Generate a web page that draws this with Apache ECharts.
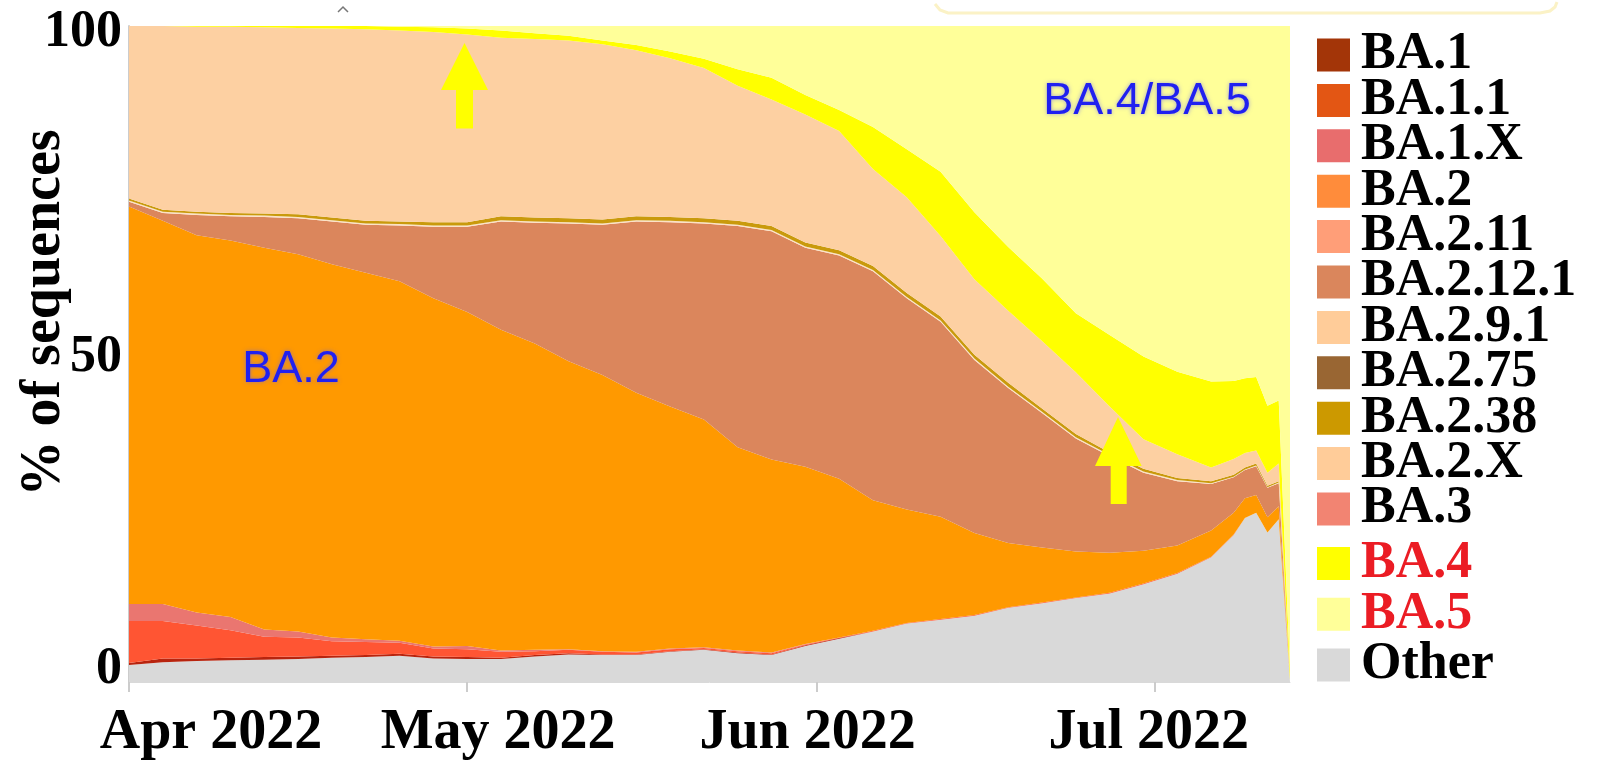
<!DOCTYPE html>
<html>
<head>
<meta charset="utf-8">
<title>Omicron sub-lineage share of sequences, Apr–Jul 2022</title>
<script src="https://cdn.jsdelivr.net/npm/echarts@6/dist/echarts.min.js"></script>
<style>
  html, body { margin: 0; padding: 0; background: #ffffff; }
  #chart { width: 1600px; height: 761px; }
</style>
</head>
<body>
<div id="chart"></div>
<script>
// Sample dates (2022) for the stacked shares
const dates = [
  '2022-04-01','2022-04-04','2022-04-07','2022-04-10','2022-04-13','2022-04-16','2022-04-19','2022-04-22',
  '2022-04-25','2022-04-28','2022-05-01','2022-05-04','2022-05-07','2022-05-10','2022-05-13','2022-05-16',
  '2022-05-19','2022-05-22','2022-05-25','2022-05-28','2022-05-31','2022-06-03','2022-06-06','2022-06-09',
  '2022-06-12','2022-06-15','2022-06-18','2022-06-21','2022-06-24','2022-06-27','2022-06-30','2022-07-03',
  '2022-07-06','2022-07-08','2022-07-09','2022-07-10','2022-07-11','2022-07-12','2022-07-13'
];

// Percent of sequences per lineage, bottom of the stack first
const other   = [2.6,3.0,3.2,3.3,3.4,3.5,3.7,3.8,4.0,3.6,3.5,3.5,3.9,4.2,4.1,4.1,4.6,4.9,4.4,4.1,5.5,6.6,7.7,8.9,9.5,10.1,11.3,12.0,12.8,13.5,14.9,16.5,19.0,22.4,25.0,25.8,22.8,24.8,0];
const ba1     = [0.3,0.6,0.4,0.4,0.4,0.4,0.3,0.3,0.3,0.3,0.3,0.2,0.2,0.2,0.1,0.1,0.1,0.1,0.1,0.1,0.1,0.1,0,0,0,0,0,0,0,0,0,0,0,0,0,0,0,0,0];
const ba11    = [6.4,5.7,5.0,4.2,3.1,2.9,2.2,2.0,1.7,1.2,1.2,0.9,0.6,0.5,0.4,0.3,0.3,0.2,0.2,0.2,0.1,0.1,0.1,0.1,0.1,0.1,0.1,0.1,0.1,0.1,0.1,0.1,0.1,0.1,0,0,0,0,0];
const ba1x    = [2.6,2.6,2.0,2.0,1.1,0.9,0.6,0.4,0.3,0.3,0.5,0.2,0.2,0.1,0.1,0.1,0.1,0.1,0.1,0.1,0.1,0,0,0,0,0,0,0,0,0,0,0,0,0,0,0,0,0,0];
const ba2     = [60.6,58.4,57.5,57.4,58.2,57.5,56.9,55.9,54.8,53.1,50.9,48.9,46.7,43.9,42.1,39.5,36.9,34.7,31.0,29.4,27.0,24.2,19.9,17.3,15.6,12.5,9.8,8.4,7.0,6.1,5.0,4.2,4.0,3.3,3.0,2.7,2.3,2.0,0];
const ba211   = [0,0,0,0,0,0,0,0,0,0,0,0,0,0,0,0,0,0,0,0,0,0,0,0,0,0,0,0,0,0,0,0,0,0,0,0,0,0,0];
const ba2121  = [0.7,1.2,3.1,3.7,4.7,5.5,6.5,7.3,8.5,10.9,13.0,16.5,18.4,21.0,22.9,26.1,28.1,29.9,33.7,34.8,33.4,34.0,34.9,32.2,29.7,26.4,23.6,20.5,17.2,14.7,11.9,9.8,7.1,5.4,4.3,4.4,4.5,3.5,0.3];
const ba291   = [0.2,0.2,0.2,0.2,0.2,0.2,0.2,0.2,0.2,0.2,0.2,0.2,0.2,0.2,0.2,0.2,0.2,0.2,0.2,0.2,0.2,0.2,0.2,0.2,0.2,0.2,0.2,0.2,0.2,0.2,0.2,0.2,0.1,0.1,0.1,0.1,0.1,0.1,0];
const ba275   = [0,0,0,0,0,0,0,0,0,0,0,0,0,0,0,0,0,0,0,0,0,0,0,0,0,0,0,0,0,0,0,0,0,0,0,0,0,0,0];
const ba238   = [0.3,0.3,0.3,0.3,0.3,0.4,0.4,0.4,0.4,0.5,0.5,0.6,0.6,0.6,0.6,0.6,0.6,0.6,0.6,0.6,0.6,0.6,0.6,0.6,0.6,0.6,0.6,0.5,0.5,0.4,0.4,0.3,0.3,0.3,0.3,0.3,0.2,0.2,0];
const ba2x    = [26.3,28.0,28.2,28.4,28.4,28.4,28.8,29.2,29.1,29.0,28.6,27.2,27.2,27.1,26.7,25.3,24.2,22.9,20.6,19.3,19.5,18.2,14.8,14.6,12.3,11.5,11.0,10.3,9.4,7.0,4.5,3.6,2.1,2.4,2.2,2.0,2.0,2.7,0];
const ba3     = [0,0,0,0,0,0,0,0,0,0,0,0,0,0,0,0,0,0,0,0,0,0,0,0,0,0,0,0,0,0,0,0,0,0,0,0,0,0,0];
const ba4     = [0,0,0.1,0.1,0.2,0.3,0.4,0.5,0.6,0.7,0.9,1.1,0.9,0.7,0.6,0.8,1.0,1.4,2.5,3.3,3.0,3.2,6.4,7.3,9.8,10.2,9.7,9.5,9.0,10.9,12.6,12.6,13.1,11.9,11.4,11.2,10.2,9.6,1.5];
const ba5     = [0,0,0,0,0,0,0,0,0.1,0.2,0.4,0.7,1.1,1.5,2.2,2.9,3.9,5.0,6.6,7.9,10.5,12.8,15.4,18.8,22.2,28.4,33.7,38.5,43.8,47.1,50.4,52.7,54.2,54.1,53.7,53.5,57.9,57.1,98.2];

// Axis tick labels
const yTicks = [0, 50, 100];
const monthNames = ['Jan','Feb','Mar','Apr','May','Jun','Jul','Aug','Sep','Oct','Nov','Dec'];

// Stack order (bottom to top) and area fill colours
const layers = [
  { name: 'Other',     values: other,  fill: '#D9D9D9' },
  { name: 'BA.1',      values: ba1,    fill: '#B8240E' },
  { name: 'BA.1.1',    values: ba11,   fill: '#FF5533' },
  { name: 'BA.1.X',    values: ba1x,   fill: '#EA7670' },
  { name: 'BA.2',      values: ba2,    fill: '#FF9900' },
  { name: 'BA.2.11',   values: ba211,  fill: '#FF9E78' },
  { name: 'BA.2.12.1', values: ba2121, fill: '#DB865C' },
  { name: 'BA.2.9.1',  values: ba291,  fill: '#FCE2C4' },
  { name: 'BA.2.75',   values: ba275,  fill: '#996633' },
  { name: 'BA.2.38',   values: ba238,  fill: '#C99A0C' },
  { name: 'BA.2.X',    values: ba2x,   fill: '#FDD0A2' },
  { name: 'BA.3',      values: ba3,    fill: '#F28472' },
  { name: 'BA.4',      values: ba4,    fill: '#FFFF00' },
  { name: 'BA.5',      values: ba5,    fill: '#FFFF99' }
];

// Legend swatch colours
const swatch = {
  'BA.1': '#A33508', 'BA.1.1': '#E35614', 'BA.1.X': '#E86D6D', 'BA.2': '#FF8C3B',
  'BA.2.11': '#FF9E78', 'BA.2.12.1': '#DA865C', 'BA.2.9.1': '#FFCC99', 'BA.2.75': '#996633',
  'BA.2.38': '#CC9900', 'BA.2.X': '#FFCC99', 'BA.3': '#F28472', 'BA.4': '#FFFF00',
  'BA.5': '#FFFF99', 'Other': '#D9D9D9'
};
const legendMain = ['BA.1','BA.1.1','BA.1.X','BA.2','BA.2.11','BA.2.12.1','BA.2.9.1','BA.2.75','BA.2.38','BA.2.X','BA.3'];
const legendNew  = ['BA.4','BA.5','Other'];
const highlighted = ['BA.4','BA.5'];

const serif = "'Liberation Serif', 'DejaVu Serif', serif";
const sans = "'Liberation Sans', Arial, sans-serif";

const chart = echarts.init(document.getElementById('chart'), null, { renderer: 'canvas' });

function legendItems(names) {
  return names.map(n => {
    const item = { name: n, icon: 'rect', itemStyle: { color: swatch[n], borderWidth: 0 } };
    if (highlighted.includes(n)) item.textStyle = { color: '#EB1C24' };
    return item;
  });
}

const legendText = {
  fontFamily: serif, fontWeight: 'bold', fontSize: 52, color: '#000000',
  padding: [0, 0, 0, 6]
};

const monthLabel = (pad) => ({
  fontFamily: serif, fontWeight: 'bold', fontSize: 56, color: '#000000', padding: pad
});
const tickLabel = (pad) => ({
  fontFamily: serif, fontWeight: 'bold', fontSize: 52, color: '#000000', padding: pad
});

const arrowFill = '#FFFF00';
const noteStyle = {
  fontFamily: sans, fontSize: 45, fill: '#2020F0',
  textShadowColor: 'rgba(90,90,255,0.55)', textShadowBlur: 4,
  align: 'center', verticalAlign: 'middle'
};

const option = {
  animation: false,
  backgroundColor: '#ffffff',
  grid: { left: 129, right: 310, top: 26, bottom: 79, containLabel: false, outerBoundsMode: 'none' },
  legend: [
    {
      orient: 'vertical', left: 1312, top: 24,
      itemWidth: 33, itemHeight: 33, itemGap: -6.6,
      selectedMode: false, icon: 'rect',
      textStyle: legendText,
      data: legendItems(legendMain)
    },
    {
      orient: 'vertical', left: 1312, top: 532.5,
      itemWidth: 33, itemHeight: 33, itemGap: -1.25,
      selectedMode: false, icon: 'rect',
      textStyle: legendText,
      data: legendItems(legendNew)
    }
  ],
  xAxis: {
    type: 'time',
    min: dates[0],
    max: dates[dates.length - 1],
    splitNumber: 3,
    minInterval: 28 * 24 * 3600 * 1000,
    boundaryGap: false,
    axisLine: { show: true, lineStyle: { color: '#d9d9d9', width: 1 } },
    axisTick: { show: true, length: 10, lineStyle: { color: '#cccccc', width: 2 } },
    splitLine: { show: false },
    minorTick: { show: false },
    axisLabel: {
      margin: 24,
      showMaxLabel: false,
      hideOverlap: false,
      formatter: function (val) {
        const d = new Date(val);
        const key = monthNames[d.getMonth()].toLowerCase();
        return '{' + key + '|' + monthNames[d.getMonth()] + ' ' + d.getFullYear() + '}';
      },
      rich: {
        apr: monthLabel([0, 0, 0, 164]),
        may: monthLabel([0, 0, 0, 62]),
        jun: monthLabel([0, 18, 0, 0]),
        jul: monthLabel([0, 12, 0, 0]),
        jan: monthLabel(0), feb: monthLabel(0), mar: monthLabel(0), aug: monthLabel(0),
        sep: monthLabel(0), oct: monthLabel(0), nov: monthLabel(0), dec: monthLabel(0)
      }
    }
  },
  yAxis: {
    type: 'value',
    min: yTicks[0],
    max: yTicks[yTicks.length - 1],
    interval: yTicks[1] - yTicks[0],
    name: '% of sequences',
    nameLocation: 'middle',
    nameGap: 56,
    nameMoveOverlap: false,
    nameTextStyle: {
      fontFamily: serif, fontWeight: 'bold', fontSize: 56, color: '#000000',
      padding: [0, 0, 0, 82]
    },
    axisLine: { show: true, lineStyle: { color: '#cccccc', width: 2 } },
    axisTick: { show: false },
    splitLine: { show: false },
    axisLabel: {
      margin: 7,
      formatter: v => '{t' + v + '|' + v + '}',
      rich: {
        t0: tickLabel([0, 0, 24, 0]),
        t50: tickLabel([8, 0, 0, 0]),
        t100: tickLabel([14, 0, 0, 0])
      }
    }
  },
  series: layers.map(l => ({
    name: l.name,
    type: 'line',
    stack: 'share',
    symbol: 'none',
    showSymbol: false,
    smooth: false,
    lineStyle: { width: 0 },
    areaStyle: { color: l.fill, opacity: 1 },
    itemStyle: { color: l.fill },
    emphasis: { disabled: true },
    data: dates.map((d, i) => [d, l.values[i]])
  })),
  graphic: [
    // faint border strip along the top right
    {
      type: 'polyline', z: 50,
      shape: { points: [[935, 4], [940, 10], [948, 13], [1540, 13], [1550, 11], [1555, 7], [1557, 2]] },
      style: { stroke: '#FBF2C6', lineWidth: 3, fill: null }
    },
    {
      type: 'polyline', z: 50,
      shape: { points: [[338, 12], [343, 7], [348, 12]] },
      style: { stroke: '#777777', lineWidth: 1.5, fill: null }
    },
    // arrows marking BA.4 / BA.5 emergence
    {
      type: 'polygon', z: 60,
      shape: { points: [[464.5, 43], [488, 90], [473, 90], [473, 128.5], [456, 128.5], [456, 90], [441, 90]] },
      style: { fill: arrowFill }
    },
    {
      type: 'polygon', z: 60,
      shape: { points: [[1118, 417], [1141.7, 466], [1126.7, 466], [1126.7, 504], [1110.7, 504], [1110.7, 466], [1095, 466]] },
      style: { fill: arrowFill }
    },
    { type: 'text', z: 60, x: 291, y: 370, style: Object.assign({ text: 'BA.2' }, noteStyle) },
    { type: 'text', z: 60, x: 1147, y: 102, style: Object.assign({ text: 'BA.4/BA.5' }, noteStyle) }
  ]
};

chart.setOption(option);
</script>
</body>
</html>
